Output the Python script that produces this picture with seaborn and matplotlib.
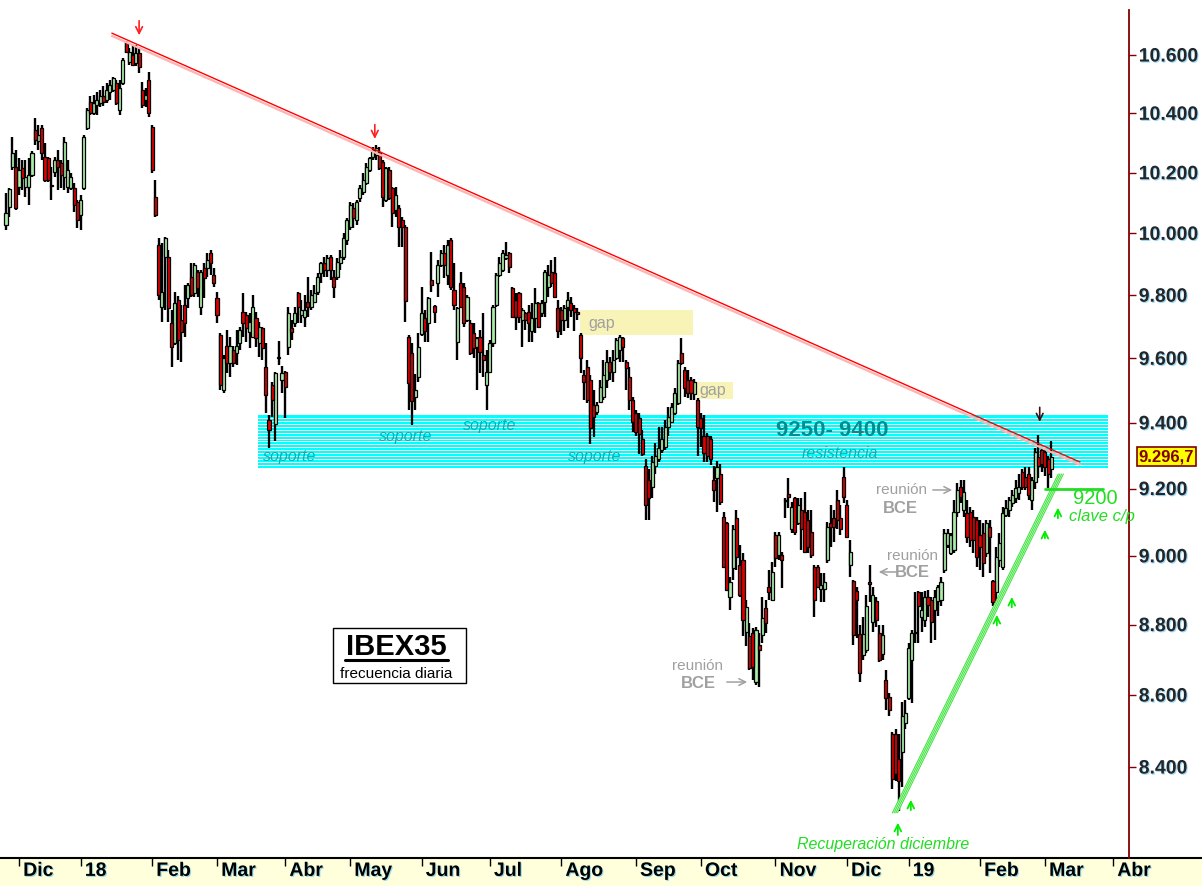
import numpy as np
import pandas as pd
import matplotlib
matplotlib.use("Agg")
import matplotlib.pyplot as plt
import matplotlib.patheffects as pe
from matplotlib.patches import Rectangle
from matplotlib.lines import Line2D
from matplotlib.ticker import FixedLocator, NullLocator, FuncFormatter
import seaborn as sns

sns.set_theme(style="white")
plt.rcParams["font.family"] = ["Liberation Sans", "DejaVu Sans"]

# -------------------------------
# IBEX35 daily candles, 27-Nov-2017 .. 05-Mar-2019
# -------------------------------
opens = [
    10027, 10087, 10220, 10220,
    10153, 10217, 10153, 10153, 10193, 10343, 10307, 10350, 10253, 10250, 10160, 10203, 10243, 10233, 10187, 10153, 10150, 10150, 10103,
    10060, 10150, 10350, 10438, 10400, 10428, 10434, 10459, 10445, 10472, 10479, 10503, 10410, 10503, 10641, 10576, 10600, 10572, 10607, 10479, 10445, 10514,
    10353, 10120, 9961, 9762, 9922, 9922, 9712, 9648, 9784, 9720, 9768, 9790, 9858, 9806, 9874, 9762, 9887, 9887, 9935, 9864,
    9790, 9673, 9501, 9640, 9585, 9625, 9616, 9648, 9746, 9737, 9683, 9667, 9727, 9648, 9696, 9572, 9409, 9517, 9397, 9603, 9532,
    9557, 9635, 9696, 9712, 9806, 9737, 9730, 9778, 9762, 9778, 9810, 9871, 9903, 9880, 9922, 9858, 9858, 9903, 9922, 9977,
    10020, 10083, 10043, 10117, 10137, 10167, 10210, 10253, 10260, 10270, 10237, 10110, 10210, 10150, 10077, 10083, 10043, 10020, 9667, 9616, 9480, 9542,
    9677, 9727, 9712, 9848, 9765, 9838, 9897, 9935, 9864, 9977, 9816, 9651, 9838, 9826, 9721, 9712, 9680, 9635, 9667, 9609, 9517,
    9557, 9648, 9768, 9864, 9880, 9919, 9935, 9822, 9784, 9806, 9721, 9743, 9746, 9686, 9727, 9774, 9743, 9778, 9826, 9874, 9871, 9759,
    9752, 9721, 9762, 9774, 9759, 9746, 9673, 9548, 9572, 9532, 9455, 9433, 9464, 9480, 9532, 9588, 9557, 9600, 9625, 9664, 9588, 9542, 9470,
    9431, 9415, 9349, 9267, 9227, 9206, 9267, 9288, 9318, 9327, 9388, 9403, 9431, 9461, 9616, 9563, 9532, 9532, 9490, 9470,
    9415, 9358, 9358, 9349, 9227, 9233, 9243, 9116, 9098, 8881, 8965, 9113, 8974, 8988, 8780, 8766, 8777, 8637, 8743, 8771, 8849, 8910, 8872,
    9062, 9003, 9003, 9167, 9185, 9078, 9173, 9098, 9137, 9131, 9107, 9071, 8968, 8968, 8904, 8904, 8988, 9098, 9113, 9167, 9113, 9236,
    9152, 8974, 8925, 8896, 8774, 8714, 8728, 8922, 8809, 8867, 8777, 8717, 8643, 8595, 8490, 8490, 8421, 8440, 8523,
    8592, 8700, 8777, 8893, 8823, 8814, 8881, 8870, 8843, 8867, 8870, 8959, 9033, 9009, 9018, 9131, 9206, 9137, 9128, 9131, 9116, 9107,
    9062, 9068, 9009, 9086, 8925, 8893, 8988, 8968, 9122, 9137, 9158, 9173, 9188, 9249, 9236, 9243, 9167, 9220, 9294, 9318,
    9312, 9288, 9258,
]
highs = [
    10133, 10150, 10320, 10277,
    10250, 10243, 10243, 10250, 10273, 10383, 10360, 10360, 10300, 10253, 10220, 10253, 10277, 10243, 10320, 10243, 10200, 10167, 10110,
    10127, 10327, 10417, 10459, 10462, 10472, 10479, 10493, 10503, 10514, 10524, 10514, 10514, 10590, 10648, 10624, 10634, 10634, 10628, 10507, 10486, 10541,
    10360, 10177, 9984, 9968, 9987, 9945, 9752, 9810, 9797, 9768, 9832, 9838, 9903, 9903, 9880, 9880, 9903, 9935, 9945, 9887,
    9810, 9680, 9609, 9689, 9667, 9640, 9689, 9699, 9806, 9746, 9743, 9800, 9746, 9715, 9699, 9648, 9424, 9526, 9557, 9654, 9575,
    9560, 9762, 9721, 9762, 9810, 9784, 9800, 9858, 9816, 9832, 9871, 9906, 9922, 9929, 9929, 9880, 9919, 9945, 10000, 10050,
    10103, 10100, 10110, 10160, 10200, 10233, 10253, 10287, 10293, 10287, 10243, 10220, 10220, 10153, 10153, 10093, 10053, 10027, 9673, 9648, 9550, 9680,
    9826, 9752, 9794, 9938, 9768, 9913, 9945, 9961, 9977, 9984, 9903, 9762, 9874, 9838, 9800, 9721, 9712, 9667, 9689, 9743, 9625,
    9657, 9768, 9871, 9922, 9945, 9971, 9938, 9826, 9806, 9810, 9759, 9746, 9768, 9774, 9822, 9778, 9784, 9880, 9897, 9913, 9922, 9784,
    9762, 9768, 9810, 9794, 9768, 9760, 9680, 9563, 9594, 9548, 9501, 9464, 9532, 9594, 9625, 9603, 9625, 9664, 9673, 9667, 9594, 9572, 9480,
    9440, 9431, 9379, 9288, 9258, 9297, 9339, 9388, 9388, 9409, 9449, 9461, 9508, 9594, 9664, 9572, 9563, 9542, 9535, 9476,
    9431, 9424, 9370, 9358, 9267, 9282, 9273, 9130, 9101, 8939, 9092, 9137, 9033, 9009, 8870, 8805, 8791, 8794, 8777, 8881, 8870, 8959, 8983,
    9071, 9070, 9012, 9173, 9233, 9161, 9176, 9173, 9173, 9191, 9137, 9137, 8974, 8974, 8950, 8950, 9101, 9152, 9137, 9197, 9152, 9264,
    9167, 9048, 8930, 8910, 8800, 8823, 8887, 8974, 8910, 8881, 8800, 8800, 8671, 8606, 8496, 8504, 8490, 8581, 8587,
    8746, 8786, 8893, 8896, 8893, 8896, 8901, 8881, 8901, 8916, 8939, 9078, 9078, 9068, 9167, 9218, 9227, 9227, 9167, 9146, 9137, 9115,
    9107, 9098, 9107, 9107, 8930, 9027, 9068, 9146, 9167, 9176, 9197, 9227, 9243, 9258, 9264, 9264, 9236, 9324, 9361, 9324,
    9318, 9297, 9343,
]
lows = [
    10010, 10053, 10210, 10077,
    10127, 10143, 10120, 10093, 10187, 10293, 10277, 10243, 10170, 10170, 10110, 10187, 10143, 10150, 10143, 10133, 10143, 10070, 10017,
    10010, 10143, 10343, 10393, 10393, 10393, 10421, 10424, 10434, 10445, 10472, 10428, 10393, 10497, 10607, 10566, 10562, 10562, 10538, 10417, 10421, 10387,
    10200, 10053, 9784, 9714, 9752, 9714, 9572, 9641, 9594, 9588, 9667, 9759, 9794, 9794, 9794, 9737, 9790, 9858, 9864, 9826,
    9712, 9501, 9492, 9554, 9542, 9572, 9578, 9625, 9667, 9651, 9632, 9664, 9635, 9604, 9594, 9431, 9324, 9418, 9343, 9578, 9492,
    9415, 9609, 9657, 9699, 9712, 9712, 9699, 9730, 9752, 9775, 9800, 9838, 9858, 9858, 9848, 9790, 9848, 9880, 9913, 9961,
    10010, 10017, 10027, 10103, 10127, 10160, 10203, 10243, 10243, 10210, 10087, 10103, 10110, 10020, 10053, 9955, 9955, 9714, 9440, 9394, 9440, 9526,
    9670, 9651, 9651, 9810, 9712, 9794, 9890, 9855, 9832, 9816, 9752, 9594, 9759, 9699, 9715, 9609, 9600, 9501, 9554, 9542, 9440,
    9554, 9635, 9762, 9858, 9874, 9913, 9871, 9727, 9689, 9712, 9635, 9689, 9651, 9651, 9680, 9696, 9730, 9730, 9794, 9826, 9790, 9664,
    9673, 9686, 9696, 9730, 9686, 9720, 9554, 9470, 9462, 9334, 9355, 9425, 9461, 9470, 9508, 9532, 9526, 9594, 9588, 9588, 9501, 9440, 9373,
    9358, 9303, 9297, 9107, 9107, 9173, 9243, 9280, 9309, 9318, 9358, 9400, 9424, 9455, 9580, 9480, 9476, 9470, 9470, 9297,
    9327, 9279, 9279, 9270, 9161, 9131, 9152, 8965, 8896, 8843, 8930, 8959, 8881, 8766, 8740, 8671, 8643, 8628, 8623, 8748, 8777, 8870, 8867,
    8968, 8988, 8907, 9113, 9143, 9068, 9062, 9092, 9018, 9009, 9009, 8995, 8823, 8907, 8864, 8864, 8980, 9027, 9042, 9078, 9062, 9158,
    9053, 8939, 8743, 8763, 8637, 8700, 8720, 8864, 8780, 8794, 8694, 8700, 8559, 8540, 8340, 8361, 8281, 8346, 8504,
    8587, 8578, 8746, 8748, 8780, 8794, 8823, 8748, 8757, 8826, 8853, 8950, 9024, 9003, 9009, 9116, 9158, 9116, 9039, 9027, 9009, 8968,
    8959, 8939, 8997, 8950, 8853, 8872, 8968, 8959, 9116, 9116, 9146, 9158, 9167, 9197, 9197, 9167, 9137, 9200, 9233, 9249,
    9237, 9203, 9233,
]
closes = [
    10067, 10147, 10267, 10083,
    10210, 10183, 10187, 10193, 10267, 10310, 10327, 10267, 10177, 10177, 10157, 10243, 10220, 10193, 10303, 10210, 10187, 10093, 10043,
    10110, 10320, 10410, 10400, 10434, 10445, 10459, 10438, 10479, 10497, 10521, 10434, 10486, 10583, 10610, 10610, 10566, 10607, 10559, 10428, 10462, 10400,
    10210, 10060, 9800, 9810, 9984, 9759, 9635, 9774, 9657, 9683, 9712, 9832, 9800, 9897, 9822, 9874, 9855, 9913, 9903, 9838,
    9737, 9517, 9600, 9585, 9640, 9585, 9640, 9689, 9712, 9696, 9715, 9762, 9664, 9699, 9632, 9486, 9379, 9470, 9554, 9600, 9554,
    9511, 9743, 9683, 9743, 9762, 9752, 9752, 9762, 9800, 9806, 9858, 9903, 9880, 9919, 9880, 9826, 9906, 9922, 9984, 10043,
    10093, 10050, 10103, 10150, 10177, 10220, 10250, 10277, 10283, 10217, 10120, 10217, 10117, 10067, 10127, 10020, 10020, 9780, 9523, 9467, 9500, 9635,
    9743, 9686, 9790, 9832, 9746, 9897, 9935, 9897, 9961, 9826, 9768, 9759, 9762, 9712, 9794, 9616, 9632, 9664, 9619, 9594, 9557,
    9648, 9762, 9864, 9903, 9935, 9929, 9890, 9730, 9730, 9730, 9752, 9721, 9712, 9727, 9774, 9699, 9774, 9874, 9864, 9838, 9794, 9686,
    9721, 9759, 9784, 9752, 9746, 9740, 9600, 9526, 9470, 9385, 9418, 9455, 9511, 9548, 9588, 9557, 9594, 9657, 9667, 9635, 9569, 9470, 9403,
    9373, 9364, 9303, 9152, 9173, 9279, 9297, 9324, 9349, 9388, 9418, 9449, 9492, 9585, 9585, 9508, 9492, 9492, 9525, 9388,
    9385, 9309, 9297, 9290, 9197, 9264, 9161, 8968, 8901, 8922, 9078, 8997, 8887, 8814, 8850, 8677, 8680, 8786, 8728, 8820, 8806, 8893, 8953,
    8994, 9062, 8988, 9164, 9176, 9146, 9071, 9152, 9078, 9012, 9027, 9003, 8872, 8910, 8916, 8922, 9086, 9086, 9086, 9107, 9078, 9176,
    9056, 9012, 8769, 8872, 8663, 8774, 8853, 8919, 8887, 8814, 8700, 8771, 8592, 8559, 8366, 8380, 8361, 8540, 8550,
    8734, 8777, 8780, 8853, 8843, 8881, 8858, 8809, 8881, 8910, 8922, 9068, 9068, 9062, 9131, 9197, 9176, 9191, 9056, 9048, 9048, 8997,
    9027, 8980, 9098, 9056, 8864, 8997, 9039, 9128, 9143, 9167, 9182, 9203, 9206, 9206, 9206, 9182, 9227, 9310, 9267, 9273,
    9264, 9243, 9296.7,
]

# Spanish market holidays inside the period
holidays = ["2017-12-25", "2017-12-26", "2018-01-01", "2018-03-30", "2018-04-02",
            "2018-05-01", "2018-12-25", "2018-12-26", "2019-01-01"]
month_names = ["Dic", "18", "Feb", "Mar", "Abr", "May", "Jun", "Jul", "Ago",
               "Sep", "Oct", "Nov", "Dic", "19", "Feb", "Mar", "Abr"]

# annotation levels
band_lo, band_hi = 9262, 9424          # zona 9250-9400
trend_red = ([32.6, 330.8], [10676, 9280])
trend_green = ([273.8, 324.9], [8275, 9244])
key_level = 9200

# -------------------------------
o = np.array(opens, float)
h = np.array(highs, float)
l = np.array(lows, float)
c = np.array(closes, float)
assert len(o) == len(h) == len(l) == len(c)
n = len(c)
xs = np.arange(n)

dates = pd.bdate_range("2017-11-27", "2019-04-30")
dates = dates[~dates.isin(pd.to_datetime(holidays))]
mkey = dates.year * 12 + dates.month
month_pos = [i for i in range(1, len(dates)) if mkey[i] != mkey[i - 1]][:len(month_names)]

fig = plt.figure(figsize=(12.02, 8.86), dpi=100)
fig.patch.set_facecolor("white")
ax = fig.add_axes([0, 28 / 886, 1129 / 1202, 848 / 886])
ax.set_facecolor("white")
ax.patch.set_alpha(0)

# bottom date band
fig.patches.append(Rectangle((0, 0), 1, 28 / 886, transform=fig.transFigure,
                             facecolor="#ffffdc", edgecolor="none", zorder=-5))
fig.add_artist(Line2D([0, 1], [28 / 886, 28 / 886], transform=fig.transFigure,
                      color="black", lw=1.5, zorder=-4))

ax.set_yscale("log")
ax.set_ylim(8154, 10757)
ax.set_xlim(-1.85, 345.9)

# resistance / support band: cyan with thin white stripes
ax.fill_between([77.6, 339.4], band_lo, band_hi, color="#00ffff", lw=0, zorder=1)
stripes = np.geomspace(band_lo, band_hi, 19)[1:-1]
ax.hlines(stripes, 77.6, 339.4, color="white", lw=0.72, zorder=1.2, antialiased=False)

# gap boxes
ax.fill_between([176.8, 211.6], 9672, 9752, color="#f8f4b8", lw=0, zorder=1)
ax.fill_between([212.8, 223.9], 9472, 9525, color="#f8f4b8", lw=0, zorder=1)
ax.text(179.3, 9711, "gap", fontsize=11.5, color="#a0a0a0", va="center", ha="left", zorder=2)
ax.text(213.6, 9499, "gap", fontsize=11.5, color="#a0a0a0", va="center", ha="left", zorder=2)

# band labels
teal = "#1aa9b0"
ax.text(254.4, 9377, "9250- 9400", ha="center", va="center", fontsize=16,
        fontweight="bold", color="#088a8c", zorder=6)
ax.text(256.9, 9307, "resistencia", ha="center", va="center", fontsize=11.5,
        style="italic", color=teal, zorder=6)
for sx, sy in [(87.5, 9297), (123.2, 9359), (149.0, 9393), (181.4, 9297)]:
    ax.text(sx, sy, "soporte", ha="center", va="center", fontsize=11.5,
            style="italic", color=teal, zorder=6)

# candles
up = c >= o
body_lo = np.minimum(o, c)
body_h = np.maximum(np.abs(c - o), 3)
ax.vlines(xs, l, h, color="black", lw=1.7, zorder=3)
ax.bar(xs[up], body_h[up], bottom=body_lo[up], width=0.95, color="#aaeeaa",
       edgecolor="black", linewidth=0.9, zorder=4)
ax.bar(xs[~up], body_h[~up], bottom=body_lo[~up], width=0.95, color="#e00000",
       edgecolor="black", linewidth=0.9, zorder=4)

# red bearish trendline (double line)
ax.plot(trend_red[0], [v * 0.9991 for v in trend_red[1]], color="#ffb4b4", lw=1.6, zorder=5)
ax.plot(trend_red[0], trend_red[1], color="#ff0000", lw=1.0, zorder=5.1)

# green bullish trendline (channel of thin lines)
gx, gy = trend_green
ax.fill([gx[0] - 0.8, gx[1] - 0.8, gx[1] + 0.8, gx[0] + 0.8], [gy[0], gy[1], gy[1], gy[0]],
        color="#d6ffd6", lw=0, zorder=5)
for d in (-0.8, -0.27, 0.27, 0.8):
    ax.plot([gx[0] + d, gx[1] + d], gy, color="#3fe03f", lw=0.7, zorder=5.1)

# arrows
def arrow(x, tip, tail, color, lw=1.2):
    ax.annotate("", xy=(x, tip), xytext=(x, tail),
                arrowprops=dict(arrowstyle="->", color=color, lw=lw, mutation_scale=12), zorder=7)

arrow(41.0, 10659, 10729, "#ff2020")
arrow(113.6, 10304, 10371, "#ff2020")
arrow(318.4, 9394, 9456, "#401010")
for ax_i, tip, tail in [(274.7, 8256, 8208), (278.7, 8318, 8275), (305.2, 8836, 8790),
                        (309.8, 8888, 8842), (320.0, 9085, 9044), (324.0, 9151, 9103)]:
    arrow(ax_i, tip, tail, "#00ee00", lw=1.3)

green = "#22dd22"
ax.text(270.1, 8190, "Recuperación diciembre", ha="center", va="center", fontsize=11.5,
        style="italic", color=green)
ax.plot([320, 337.8], [key_level, key_level], color=green, lw=2, zorder=6)
ax.text(335.4, 9169, "9200", ha="center", va="center", fontsize=14.5, color=green)
ax.text(337.5, 9116, "clave c/p", ha="center", va="center", fontsize=12, style="italic", color=green)

# ECB meeting notes (axes fraction)
gray = "#a0a0a0"
for (rx, ry), (bx, by), (a0, a1, ay) in [
    ((0.6174, 0.2264), (0.6182, 0.2052), (0.6413, 0.6643, 0.2075)),
    ((0.8078, 0.3561), (0.8078, 0.3361), (0.7963, 0.7759, 0.3373)),
    ((0.7989, 0.4340), (0.7972, 0.4127), (0.8238, 0.8459, 0.4340)),
]:
    ax.text(rx, ry, "reunión", transform=ax.transAxes, ha="center", va="center",
            fontsize=11, color=gray)
    ax.text(bx, by, "BCE", transform=ax.transAxes, ha="center", va="center",
            fontsize=12, fontweight="bold", color=gray)
    ax.annotate("", xy=(a1, ay), xytext=(a0, ay), xycoords="axes fraction",
                arrowprops=dict(arrowstyle="->", color=gray, lw=1.1))

# title box
ax.add_patch(Rectangle((0.2950, 0.2064), 0.1178, 0.0648, transform=ax.transAxes,
                       facecolor="white", edgecolor="black", lw=1, zorder=6))
ax.text(0.3512, 0.2494, "IBEX35", transform=ax.transAxes, ha="center", va="center",
        fontsize=21, fontweight="bold", color="black", zorder=7)
ax.plot([0.3056, 0.3968], [0.2335, 0.2335], transform=ax.transAxes, color="black", lw=2.2, zorder=7)
ax.text(0.3512, 0.2170, "frecuencia diaria", transform=ax.transAxes, ha="center", va="center",
        fontsize=11, color="black", zorder=7)

# axes styling
for side in ("top", "left", "bottom"):
    ax.spines[side].set_visible(False)
ax.spines["right"].set_color("#800000")
ax.spines["right"].set_linewidth(1.3)

shadow = [pe.SimplePatchShadow(offset=(0.8, -0.8), shadow_rgbFace="#30b8ff", alpha=0.5), pe.Normal()]

ax.yaxis.set_major_locator(FixedLocator(list(range(8400, 10601, 200))))
ax.yaxis.set_minor_locator(NullLocator())
ax.yaxis.set_major_formatter(FuncFormatter(lambda v, _: f"{int(round(v)):,}".replace(",", ".")))
ax.tick_params(axis="y", which="both", left=False, labelleft=False, right=True, labelright=True,
               direction="out", length=5, width=1, color="#800000", pad=2, labelsize=14)
for t in ax.get_yticklabels():
    t.set_fontweight("bold")
    t.set_path_effects(shadow)

ax.set_xticks(month_pos)
ax.xaxis.set_minor_locator(NullLocator())
ax.tick_params(axis="x", which="both", bottom=True, labelbottom=False, direction="out",
               length=6, width=1, color="black")
for pos, name in zip(month_pos, month_names):
    ax.annotate(name, xy=(pos, 0), xycoords=("data", "axes fraction"), xytext=(3, -3.5),
                textcoords="offset points", ha="left", va="top", fontsize=14,
                fontweight="bold", color="black", annotation_clip=False,
                path_effects=shadow, zorder=10)

# last price tag
last = f"{c[-1]:,.1f}".replace(",", "#").replace(".", ",").replace("#", ".")
ax.annotate(last, xy=(1, c[-1]), xycoords=("axes fraction", "data"), xytext=(7, 0),
            textcoords="offset points", ha="left", va="center", fontsize=12,
            fontweight="bold", color="#800000", annotation_clip=False,
            bbox=dict(boxstyle="square,pad=0.12", fc="#ffff00", ec="#800000", lw=1.2))

ax.grid(False)
fig.savefig("out.png", dpi=100)
plt.close(fig)
